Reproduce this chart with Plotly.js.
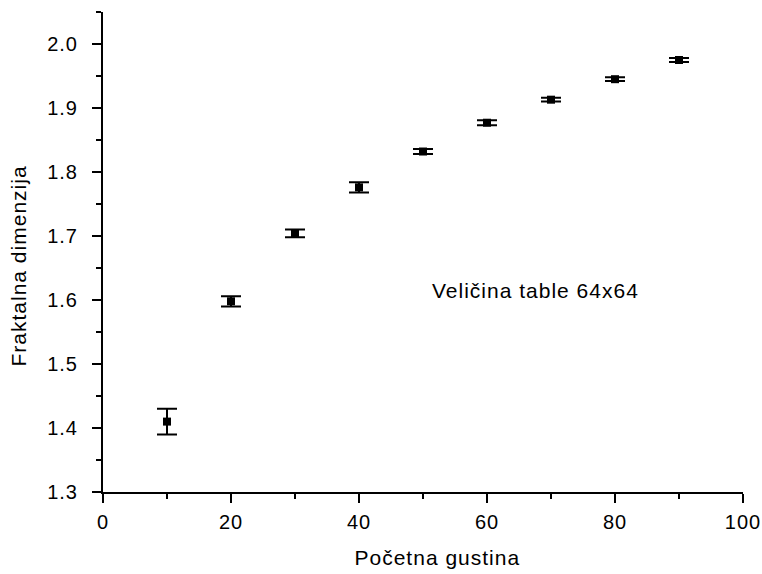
<!DOCTYPE html>
<html><head><meta charset="utf-8">
<script src="https://cdn.plot.ly/plotly-3.0.1.min.js"></script>
<style>body{margin:0;padding:0;background:#fff}#chart{width:762px;height:574px}#chart text{letter-spacing:1px}</style>
</head><body><div id="chart"></div>
<script>
const density = [10, 20, 30, 40, 50, 60, 70, 80, 90];
const fractalDim = [1.410, 1.598, 1.704, 1.776, 1.832, 1.877, 1.913, 1.945, 1.975];
const errors = [0.020, 0.008, 0.006, 0.008, 0.004, 0.004, 0.003, 0.003, 0.003];
const xTicks = [0, 20, 40, 60, 80, 100];
const yTicks = [1.3, 1.4, 1.5, 1.6, 1.7, 1.8, 1.9, 2.0];

const font = {family: 'Liberation Sans, Arial, sans-serif', size: 20, color: '#000'};
const bigFont = {family: 'Liberation Sans, Arial, sans-serif', size: 21, color: '#000'};
const trace = {
  x: density, y: fractalDim, type: 'scatter', mode: 'markers',
  marker: {symbol: 'square', size: 8, color: '#000'},
  error_y: {type: 'data', array: errors, visible: true, color: '#000', thickness: 2, width: 10},
  showlegend: false
};
const layout = {
  width: 762, height: 574,
  margin: {l: 103, r: 19, t: 12, b: 82},
  paper_bgcolor: '#fff', plot_bgcolor: '#fff',
  font: font,
  xaxis: {
    range: [0, 100], tickvals: xTicks, ticktext: xTicks.map(String),
    showline: true, linecolor: '#000', linewidth: 2, showgrid: false, zeroline: false,
    ticks: 'outside', ticklen: 9, tickwidth: 2, tickcolor: '#000',
    minor: {dtick: 10, tick0: 0, ticks: 'outside', ticklen: 5, tickwidth: 2, tickcolor: '#000', showgrid: false},
    tickfont: font, ticklabelstandoff: 2
  },
  yaxis: {
    range: [1.3, 2.05], tickvals: yTicks, ticktext: yTicks.map(v => v.toFixed(1)),
    showline: true, linecolor: '#000', linewidth: 2, showgrid: false, zeroline: false,
    ticks: 'outside', ticklen: 9, tickwidth: 2, tickcolor: '#000',
    minor: {dtick: 0.05, tick0: 1.3, ticks: 'outside', ticklen: 5, tickwidth: 2, tickcolor: '#000', showgrid: false},
    tickfont: font, ticklabelstandoff: 10
  },
  annotations: [
    {x: 67.5, y: 1.615, xref: 'x', yref: 'y', text: 'Veličina table 64x64',
     showarrow: false, font: bigFont, xanchor: 'center', yanchor: 'middle'},
    {x: (437 - 103) / 640, y: 557, xref: 'paper', yref: 'paper',
     text: 'Početna gustina', showarrow: false, font: bigFont, xanchor: 'center', yanchor: 'middle'},
    {x: 18, y: 266, xref: 'paper', yref: 'paper',
     text: 'Fraktalna dimenzija', showarrow: false, font: bigFont, textangle: -90, xanchor: 'center', yanchor: 'middle'}
  ]
};
// convert pixel positions for title annotations to paper coordinates
const plotW = 762 - 103 - 19, plotH = 574 - 12 - 82;
layout.annotations[1].y = (574 - 82 - 557) / plotH;
layout.annotations[2].x = (18 - 103) / plotW;
layout.annotations[2].y = (574 - 82 - 266) / plotH;
Plotly.newPlot('chart', [trace], layout, {displayModeBar: false, staticPlot: true});
</script></body></html>
